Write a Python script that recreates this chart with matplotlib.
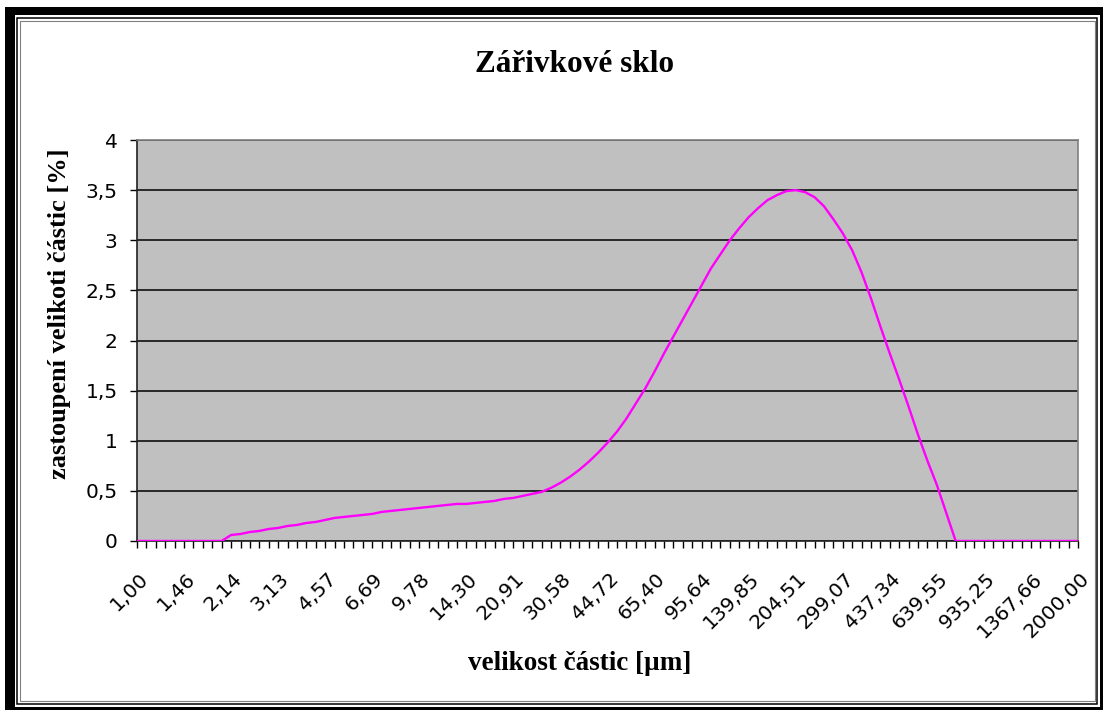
import matplotlib.pyplot as plt
from matplotlib.patches import Rectangle
from matplotlib.transforms import ScaledTranslation

# size classes: 101 categories, Excel shows a label on every 5th one
size_labels = ["1,00", "1,46", "2,14", "3,13", "4,57", "6,69", "9,78", "14,30",
               "20,91", "30,58", "44,72", "65,40", "95,64", "139,85", "204,51",
               "299,07", "437,34", "639,55", "935,25", "1367,66", "2000,00"]

# share of each size class [%]
share = [0, 0, 0, 0, 0, 0, 0, 0, 0, 0,
         0.06, 0.07, 0.09, 0.10, 0.12, 0.13, 0.15, 0.16, 0.18, 0.19,
         0.21, 0.23, 0.24, 0.25, 0.26, 0.27, 0.29, 0.30, 0.31, 0.32,
         0.33, 0.34, 0.35, 0.36, 0.37, 0.37, 0.38, 0.39, 0.40, 0.42,
         0.43, 0.45, 0.47, 0.49, 0.53, 0.58, 0.64, 0.71, 0.79, 0.88,
         0.98, 1.09, 1.22, 1.37, 1.52, 1.69, 1.87, 2.04, 2.21, 2.38,
         2.55, 2.72, 2.86, 3.00, 3.12, 3.23, 3.32, 3.40, 3.45, 3.49,
         3.50, 3.48, 3.43, 3.34, 3.21, 3.07, 2.90, 2.68, 2.42, 2.14,
         1.87, 1.61, 1.34, 1.06, 0.80, 0.56, 0.28, 0, 0, 0,
         0, 0, 0, 0, 0, 0, 0, 0, 0, 0,
         0]

y_ticks = [0, 0.5, 1, 1.5, 2, 2.5, 3, 3.5, 4]
y_labels = ["0", "0,5", "1", "1,5", "2", "2,5", "3", "3,5", "4"]

W, H = 1110, 711
fig = plt.figure(figsize=(W / 100, H / 100), dpi=100)
fig.patch.set_facecolor("white")


def box(x0, y0, x1, y1, **kw):
    # rectangle in pixel coords, y measured from the top
    r = Rectangle((x0 / W, 1 - y1 / H), (x1 - x0) / W, (y1 - y0) / H,
                  transform=fig.transFigure, **kw)
    fig.add_artist(r)


# excel-ish chart frame
box(5, 7, 1103, 710, facecolor="black", edgecolor="none", zorder=0)
box(15, 15, 1100, 707, facecolor="white", edgecolor="none", zorder=0)
box(17, 17.5, 1097, 704, facecolor="none", edgecolor="black", lw=1.1, zorder=0)
box(20, 20.5, 1095, 701, facecolor="none", edgecolor="#808080", lw=0.8, zorder=0)

ax = fig.add_axes([137 / W, 1 - 541 / H, 941 / W, 401 / H])
ax.set_facecolor("#C0C0C0")

xs = list(range(len(share)))
ax.plot(xs, share, color="#FF00FF", lw=1.7, zorder=3)

ax.set_xlim(0, len(share) - 1)
ax.set_ylim(0, 4)

tick_font = "DejaVu Sans"
ax.set_yticks(y_ticks)
ax.set_yticklabels(y_labels, fontsize=14.5, family=tick_font)
ax.yaxis.grid(True, color="black", lw=1.1)
ax.set_axisbelow(True)

lab_pos = list(range(0, len(share), 5))
ax.set_xticks(lab_pos)
ax.set_xticklabels(size_labels, fontsize=14.5, family=tick_font,
                   rotation=45, ha="right", va="center", rotation_mode="anchor")
ax.set_xticks(xs, minor=True)
ax.tick_params(axis="x", which="both", direction="out", length=5, width=1,
               color="black", pad=20)
ax.tick_params(axis="y", direction="out", length=5, width=1, color="black", pad=9)
shift = ScaledTranslation(8 / 100, 0, fig.dpi_scale_trans)
for t in ax.get_xticklabels():
    t.set_transform(t.get_transform() + shift)

for s in ["left", "bottom"]:
    ax.spines[s].set_color("#202020")
    ax.spines[s].set_linewidth(1.2)
for s in ["top", "right"]:
    ax.spines[s].set_color("#808080")
    ax.spines[s].set_linewidth(1.2)

serif = "Liberation Serif"
fig.text(575 / W, 1 - 64 / H, "Zářivkové sklo", fontsize=22.5, fontweight="bold",
         family=serif, ha="center", va="center")
fig.text(580 / W, 1 - 663 / H, "velikost částic [µm]", fontsize=19.5,
         fontweight="bold", family=serif, ha="center", va="center")
fig.text(60 / W, 1 - 314 / H, "zastoupení velikoti částic [%]", fontsize=19,
         fontweight="bold", family=serif, ha="center", va="center", rotation=90)

fig.savefig("out.png", dpi=100)
